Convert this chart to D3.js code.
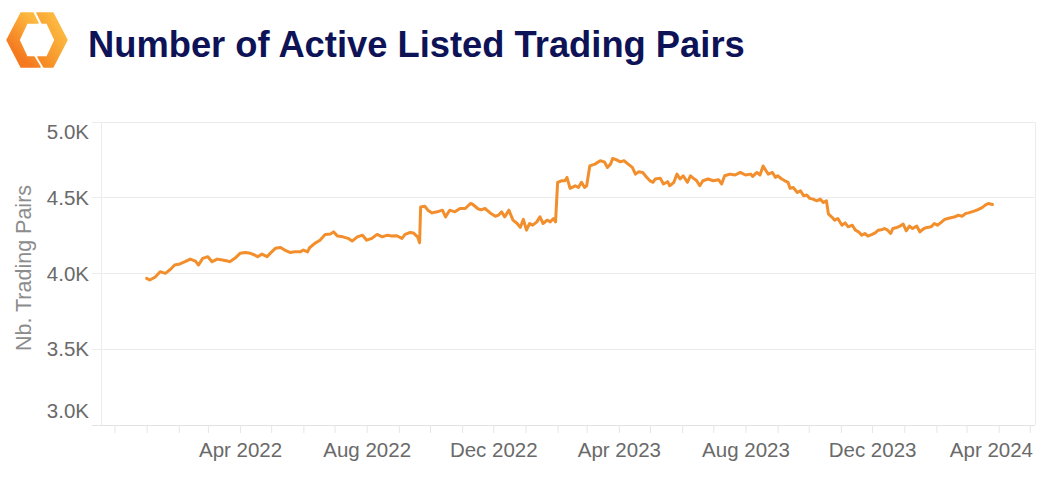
<!DOCTYPE html>
<html><head><meta charset="utf-8">
<script src="https://cdn.jsdelivr.net/npm/d3@7"></script>
<style>body{margin:0;background:#fff}svg{display:block}</style>
</head><body>
<svg id="c" width="1044" height="482"></svg>
<script>
// Days since 2022-01-01 for each reading
const dayIndex = [0,3,8,13,18,23,27,32,37,42,47,50,54,59,63,68,73,78,80,85,90,95,100,104,107,111,116,119,124,129,133,138,143,148,151,155,157,162,167,172,177,180,184,189,194,198,203,208,212,217,222,227,232,236,241,246,249,254,257,261,263,264,268,271,275,280,285,288,292,297,302,307,312,314,319,322,326,331,336,339,342,345,349,353,357,360,363,366,369,372,376,379,382,386,389,392,394,396,400,403,405,408,413,416,419,422,424,427,432,437,441,444,447,449,453,456,460,464,468,471,474,478,482,485,488,490,495,498,502,504,508,511,514,517,521,524,527,530,533,536,541,546,551,554,557,562,567,572,577,582,584,588,591,594,597,599,603,606,608,612,615,618,620,623,627,630,633,636,639,642,646,649,652,655,657,660,663,666,670,673,676,680,683,686,689,692,695,699,702,705,709,711,714,717,719,723,726,729,732,735,738,742,745,749,752,756,759,762,765,769,772,776,779,782,786,789,792,795,798,801,805,808,811,815];
// Number of active listed trading pairs
const pairs = [3968,3957,3975,4012,4001,4028,4056,4063,4078,4095,4082,4056,4100,4111,4078,4095,4089,4082,4078,4100,4133,4139,4133,4122,4111,4128,4111,4133,4166,4172,4155,4139,4143,4143,4155,4143,4170,4199,4220,4258,4260,4275,4247,4242,4232,4214,4242,4253,4220,4232,4258,4242,4253,4247,4249,4232,4258,4271,4268,4242,4203,4439,4444,4418,4400,4407,4418,4374,4418,4407,4429,4429,4462,4457,4429,4420,4429,4400,4378,4385,4407,4374,4418,4352,4330,4304,4357,4286,4330,4319,4341,4374,4330,4352,4341,4363,4341,4602,4612,4612,4634,4562,4579,4568,4602,4568,4579,4710,4722,4744,4737,4700,4722,4759,4750,4737,4744,4722,4700,4656,4671,4667,4634,4612,4602,4624,4628,4591,4606,4579,4602,4656,4624,4645,4602,4645,4628,4612,4579,4612,4624,4612,4619,4591,4645,4656,4650,4667,4650,4656,4641,4667,4650,4710,4677,4656,4667,4634,4645,4624,4612,4602,4562,4568,4535,4546,4513,4518,4496,4491,4480,4491,4469,4480,4392,4374,4352,4363,4319,4334,4308,4319,4286,4275,4253,4264,4247,4258,4268,4286,4291,4297,4286,4264,4297,4304,4313,4326,4282,4313,4297,4313,4275,4297,4304,4308,4330,4319,4334,4357,4363,4370,4374,4385,4378,4396,4400,4407,4413,4422,4435,4451,4462,4455];
const yTickValues = [3000,3500,4000,4500,5000];
const xLabelMonths = ["Apr 2022","Aug 2022","Dec 2022","Apr 2023","Aug 2023","Dec 2023","Apr 2024"];
const titleText = "Number of Active Listed Trading Pairs";
const yTitleText = "Nb. Trading Pairs";

const svg = d3.select("#c");
const L = 101, R = 1035, T = 122, B = 425;
const base = new Date(2022,0,1);
const data = dayIndex.map((d,i)=>({date:d3.timeDay.offset(base,d), v:pairs[i]}));

const x = d3.scaleTime().domain([new Date(2021,10,18), new Date(2024,4,6)]).range([L,R]);
const y = d3.scaleLinear().domain([3000,5000]).range([B,T]);

// Logo
const defs = svg.append("defs");
const g1 = defs.append("linearGradient").attr("id","lg1").attr("x1","0.6").attr("y1","0").attr("x2","0.2").attr("y2","0.7");
g1.append("stop").attr("offset","0").attr("stop-color","#FDB93F");
g1.append("stop").attr("offset","1").attr("stop-color","#F4791F");
const g2 = defs.append("linearGradient").attr("id","lg2").attr("x1","0.8").attr("y1","0.2").attr("x2","0.2").attr("y2","0.9");
g2.append("stop").attr("offset","0").attr("stop-color","#FDBB42");
g2.append("stop").attr("offset","0.6").attr("stop-color","#F8A031");
g2.append("stop").attr("offset","1").attr("stop-color","#F68A24");
const logo = svg.append("g");
logo.append("polygon").attr("points","33,13 21,13 7,40 21,67 40,67 34,57 27,57 19,40 27,23 38,23").attr("fill","url(#lg1)").attr("stroke","url(#lg1)").attr("stroke-width",1.5).attr("stroke-linejoin","round");
logo.append("polygon").attr("points","37,13 53,13 67,40 53,67 44,67 38,57 47,57 55,40 47,23 42,23").attr("fill","url(#lg2)").attr("stroke","url(#lg2)").attr("stroke-width",1.5).attr("stroke-linejoin","round");

// Title
const title = svg.append("text").attr("x",88).attr("y",57)
  .attr("font-family","'Liberation Sans', Arial, sans-serif").attr("font-weight","bold")
  .attr("font-size",30).attr("fill","#0D1356").text(titleText);
const tl = title.node().getComputedTextLength();
title.attr("font-size", 30*657/tl);

// Grid lines
svg.append("g").selectAll("line").data(yTickValues).join("line")
  .attr("x1",92).attr("x2",R).attr("y1",d=>y(d)).attr("y2",d=>y(d))
  .attr("stroke",d=>d===3000?"#e2e2e2":"#ececec").attr("stroke-width",1).attr("shape-rendering","crispEdges");
// vertical borders
svg.append("line").attr("x1",L).attr("x2",L).attr("y1",T).attr("y2",B).attr("stroke","#ececec").attr("shape-rendering","crispEdges");
svg.append("line").attr("x1",R).attr("x2",R).attr("y1",T).attr("y2",B).attr("stroke","#ececec").attr("shape-rendering","crispEdges");

// Y tick labels
const fmt = d=>d3.format(".1f")(d/1000)+"K";
svg.append("g").selectAll("text").data(yTickValues).join("text")
  .attr("x",89).attr("y",d=>{const p=y(d); return d===5000? p+17 : d===3000? p-7 : p+7;})
  .attr("text-anchor","end").attr("font-family","'Liberation Sans', Arial, sans-serif")
  .attr("font-size",20.5).attr("fill","#6a6a6a").text(fmt);

// Y title
svg.append("text").attr("transform","translate(31,268) rotate(-90)").attr("text-anchor","middle")
  .attr("font-family","'Liberation Sans', Arial, sans-serif").attr("font-size",21.5).attr("fill","#8c8c8c").text(yTitleText);

// X axis
const months = d3.timeMonth.range(new Date(2021,11,1), new Date(2024,4,2));
const fmtM = d3.timeFormat("%b %Y");
const xAxis = d3.axisBottom(x).tickValues(months).tickSize(8)
  .tickFormat(d=> xLabelMonths.includes(fmtM(d)) ? fmtM(d) : "");
const ax = svg.append("g").attr("transform",`translate(0,${B})`).call(xAxis);
ax.select(".domain").attr("d",`M92,0.5H${R}`).attr("stroke","#e2e2e2");
ax.selectAll(".tick line").attr("stroke","#e6e6e6");
ax.selectAll(".tick text").attr("y",32).attr("dy",0)
  .attr("font-family","'Liberation Sans', Arial, sans-serif").attr("font-size",20.5).attr("fill","#6a6a6a");
ax.selectAll(".tick text").each(function(){
  const w = this.getComputedTextLength();
  const tx = +d3.select(this.parentNode).attr("transform").match(/translate\(([-\d.]+)/)[1];
  if (tx + w/2 > R - 2) d3.select(this).attr("x", (R - 2) - tx - w/2);
});

// Line
svg.append("path").datum(data).attr("fill","none").attr("stroke","#F28E2B")
  .attr("stroke-width",3).attr("stroke-linejoin","round").attr("stroke-linecap","round")
  .attr("d", d3.line().x(d=>x(d.date)).y(d=>y(d.v)));
</script>
</body></html>
